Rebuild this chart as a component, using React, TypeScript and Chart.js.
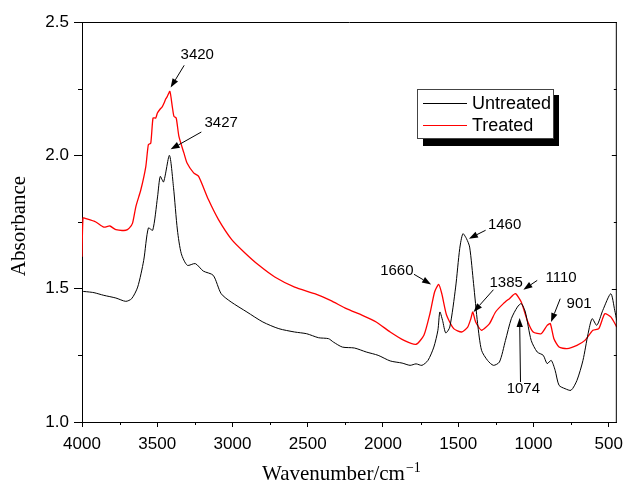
import React, { useEffect, useRef } from "react";
import { Chart, registerables } from "chart.js";

Chart.register(...registerables);

// ---------- Data ----------
const untreatedWn = [
  4000, 3960, 3920, 3855, 3775, 3709, 3670, 3630, 3590, 3559, 3530, 3498, 3480, 3458,
  3419, 3392, 3366, 3340, 3300, 3247, 3194, 3128, 3075, 3009, 2904, 2798, 2692, 2587,
  2507, 2428, 2362, 2330, 2270, 2190, 2111, 2032, 1952, 1873, 1820, 1780, 1741, 1701,
  1662, 1635, 1622, 1604, 1583, 1556, 1517, 1490, 1469, 1445, 1424, 1398, 1371, 1345,
  1305, 1266, 1226, 1186, 1147, 1107, 1081, 1054, 1015, 975, 935, 909, 882, 856, 830,
  790, 750, 711, 671, 637, 610, 579, 539, 486, 460, 446,
];
const untreatedAbs = [
  1.49, 1.488, 1.485, 1.475, 1.465, 1.4525, 1.4625, 1.506, 1.606, 1.7275, 1.719, 1.844,
  1.921, 1.9, 2.0, 1.88, 1.72, 1.631, 1.5875, 1.594, 1.566, 1.55, 1.481, 1.45, 1.4125,
  1.375, 1.35, 1.3375, 1.331, 1.316, 1.3125, 1.3, 1.281, 1.2775, 1.2625, 1.25, 1.229,
  1.221, 1.2125, 1.218, 1.2125, 1.231, 1.281, 1.344, 1.4125, 1.381, 1.334, 1.356, 1.506,
  1.65, 1.706, 1.6875, 1.656, 1.519, 1.369, 1.269, 1.231, 1.2125, 1.225, 1.306, 1.3875,
  1.431, 1.444, 1.4125, 1.306, 1.2625, 1.25, 1.219, 1.231, 1.194, 1.1375, 1.125, 1.119,
  1.156, 1.231, 1.331, 1.3875, 1.3625, 1.419, 1.481, 1.419, 1.38,
];

const treatedWn = [
  4000, 3993, 3974, 3908, 3855, 3815, 3775, 3709, 3686, 3664, 3642, 3609, 3576, 3559,
  3543, 3528, 3510, 3499, 3484, 3466, 3453, 3444, 3433, 3416, 3400, 3389, 3374, 3356,
  3323, 3302, 3258, 3225, 3160, 3093, 3005, 2917, 2824, 2719, 2587, 2454, 2349, 2243,
  2137, 2045, 1952, 1860, 1781, 1728, 1688, 1657, 1630, 1609, 1577, 1530, 1477, 1437,
  1416, 1403, 1384, 1345, 1292, 1252, 1200, 1160, 1120, 1081, 1041, 1002, 949, 909, 888,
  864, 830, 777, 711, 658, 605, 566, 526, 486, 446,
];
const treatedAbs = [
  1.62, 1.765, 1.7625, 1.75, 1.731, 1.735, 1.721, 1.719, 1.727, 1.746, 1.808, 1.871,
  1.958, 2.04, 2.046, 2.14, 2.14, 2.159, 2.171, 2.183, 2.198, 2.211, 2.221, 2.24, 2.183,
  2.146, 2.14, 2.071, 2.009, 1.971, 1.934, 1.921, 1.834, 1.759, 1.684, 1.634, 1.5875,
  1.544, 1.506, 1.481, 1.456, 1.425, 1.4, 1.375, 1.3375, 1.306, 1.291, 1.325, 1.406,
  1.4875, 1.516, 1.481, 1.4, 1.35, 1.3375, 1.356, 1.3875, 1.4125, 1.375, 1.344, 1.369,
  1.4125, 1.444, 1.4625, 1.481, 1.45, 1.381, 1.3375, 1.331, 1.3625, 1.369, 1.3125, 1.281,
  1.275, 1.2875, 1.306, 1.344, 1.35, 1.406, 1.394, 1.356,
];

const xTickValues = [4000, 3500, 3000, 2500, 2000, 1500, 1000, 500];
const xMinorTicks = [3750, 3250, 2750, 2250, 1750, 1250, 750];
const yTickValues = [1.0, 1.5, 2.0, 2.5];
const yMinorTicks = [1.25, 1.75, 2.25];

const seriesNames = ["Untreated", "Treated"];
const seriesColors = ["#000000", "#ff0000"];

// Annotations: label, label position, arrow tail, arrow head (data units)
const annotLabels = ["3420", "3427", "1460", "1660", "1385", "1110", "901", "1074"];
const annotText = [
  [3234, 2.375], [3075, 2.1225], [1192, 1.7375], [1908, 1.566],
  [1181, 1.521], [816, 1.54], [697, 1.444], [1067, 1.125],
];
const annotTail = [
  [3321, 2.3375], [3207, 2.0875], [1318, 1.719], [1794, 1.554],
  [1266, 1.496], [975, 1.531], [822, 1.4625], [1086, 1.15],
];
const annotHead = [
  [3411, 2.254], [3411, 2.0225], [1429, 1.6875], [1680, 1.516],
  [1398, 1.4125], [1067, 1.496], [883, 1.375], [1092, 1.39],
];

const SANS = "'Liberation Sans', Arial, sans-serif";
const SERIF = "'Liberation Serif', 'Times New Roman', serif";

const decorPlugin = {
  id: "decor",
  afterDraw(chart: any) {
    const ctx = chart.ctx as CanvasRenderingContext2D;
    const xs = chart.scales.x;
    const ys = chart.scales.y;
    const { left, right, top, bottom } = chart.chartArea;
    ctx.save();
    ctx.strokeStyle = "#000";
    ctx.lineWidth = 1;
    // frame top and right
    ctx.beginPath();
    ctx.moveTo(left, top + 0.5);
    ctx.lineTo(right, top + 0.5);
    ctx.moveTo(right - 0.5, top);
    ctx.lineTo(right - 0.5, bottom);
    ctx.stroke();
    // minor x ticks
    ctx.beginPath();
    for (const v of xMinorTicks) {
      const px = Math.round(xs.getPixelForValue(v)) + 0.5;
      ctx.moveTo(px, bottom);
      ctx.lineTo(px, bottom + 3);
    }
    // minor y ticks
    for (const v of yMinorTicks) {
      const py = Math.round(ys.getPixelForValue(v)) + 0.5;
      ctx.moveTo(left, py);
      ctx.lineTo(left - 4, py);
    }
    // right-side inner ticks
    for (const v of yTickValues) {
      const py = Math.round(ys.getPixelForValue(v)) + 0.5;
      ctx.moveTo(right, py);
      ctx.lineTo(right - 5, py);
    }
    for (const v of yMinorTicks) {
      const py = Math.round(ys.getPixelForValue(v)) + 0.5;
      ctx.moveTo(right, py);
      ctx.lineTo(right - 3, py);
    }
    ctx.stroke();

    // annotations
    ctx.fillStyle = "#000";
    ctx.font = `15px ${SANS}`;
    ctx.textAlign = "center";
    ctx.textBaseline = "middle";
    annotLabels.forEach((lab, i) => {
      const tx = xs.getPixelForValue(annotText[i][0]);
      const ty = ys.getPixelForValue(annotText[i][1]);
      ctx.fillText(lab, tx, ty);
      const x1 = xs.getPixelForValue(annotTail[i][0]);
      const y1 = ys.getPixelForValue(annotTail[i][1]);
      const x2 = xs.getPixelForValue(annotHead[i][0]);
      const y2 = ys.getPixelForValue(annotHead[i][1]);
      const ang = Math.atan2(y2 - y1, x2 - x1);
      const hl = 9, hw = 3.2;
      const bx = x2 - hl * Math.cos(ang);
      const by = y2 - hl * Math.sin(ang);
      ctx.beginPath();
      ctx.moveTo(x1, y1);
      ctx.lineTo(bx, by);
      ctx.stroke();
      ctx.beginPath();
      ctx.moveTo(x2, y2);
      ctx.lineTo(bx + hw * Math.sin(ang), by - hw * Math.cos(ang));
      ctx.lineTo(bx - hw * Math.sin(ang), by + hw * Math.cos(ang));
      ctx.closePath();
      ctx.fill();
    });

    // legend
    const lx = 417, ly = 89, lw = 136, lh = 49;
    ctx.fillStyle = "#000";
    ctx.fillRect(lx + 6, ly + 6, lw, lh + 2);
    ctx.fillStyle = "#fff";
    ctx.fillRect(lx, ly, lw, lh);
    ctx.strokeStyle = "#444";
    ctx.strokeRect(lx + 0.5, ly + 0.5, lw, lh);
    ctx.font = `18px ${SANS}`;
    ctx.textAlign = "left";
    ctx.textBaseline = "middle";
    seriesNames.forEach((name, i) => {
      const yy = ly + 14 + i * 22;
      ctx.strokeStyle = seriesColors[i];
      ctx.lineWidth = 1;
      ctx.beginPath();
      ctx.moveTo(lx + 6, yy + 0.5);
      ctx.lineTo(lx + 50, yy + 0.5);
      ctx.stroke();
      ctx.fillStyle = "#000";
      ctx.fillText(name, lx + 55, yy + 1);
    });

    // y-axis title
    ctx.save();
    ctx.translate(25, 226);
    ctx.rotate(-Math.PI / 2);
    ctx.font = `21px ${SERIF}`;
    ctx.textAlign = "center";
    ctx.textBaseline = "alphabetic";
    ctx.fillStyle = "#000";
    ctx.fillText("Absorbance", 0, 0);
    ctx.restore();

    // x-axis title with superscript
    const main = "Wavenumber/cm";
    const sup = "\u22121";
    ctx.font = `21px ${SERIF}`;
    const w1 = ctx.measureText(main).width;
    ctx.font = `14px ${SERIF}`;
    const w2 = ctx.measureText(sup).width;
    const cx = (left + right) / 2 - 8;
    const sx = cx - (w1 + w2 + 1) / 2;
    ctx.textAlign = "left";
    ctx.textBaseline = "alphabetic";
    ctx.fillStyle = "#000";
    ctx.font = `21px ${SERIF}`;
    ctx.fillText(main, sx, 480);
    ctx.font = `14px ${SERIF}`;
    ctx.fillText(sup, sx + w1 + 1, 472);
    ctx.restore();
  },
};

export default function App() {
  const ref = useRef<HTMLCanvasElement | null>(null);
  useEffect(() => {
    if (!ref.current) return;
    const chart = new Chart(ref.current, {
      type: "line",
      data: {
        datasets: [
          {
            label: seriesNames[0],
            data: untreatedWn.map((x, i) => ({ x, y: untreatedAbs[i] })),
            borderColor: seriesColors[0],
            borderWidth: 1,
            pointRadius: 0,
            tension: 0.25,
            fill: false,
          },
          {
            label: seriesNames[1],
            data: treatedWn.map((x, i) => ({ x, y: treatedAbs[i] })),
            borderColor: seriesColors[1],
            borderWidth: 1.3,
            pointRadius: 0,
            tension: 0.2,
            fill: false,
          },
        ],
      },
      options: {
        responsive: false,
        animation: false,
        devicePixelRatio: 1,
        layout: { padding: { left: 0, right: 8, top: 22, bottom: 0 } },
        plugins: { legend: { display: false }, tooltip: { enabled: false } },
        scales: {
          x: {
            type: "linear",
            reverse: true,
            min: 446,
            max: 4000,
            afterBuildTicks: (s: any) => {
              s.ticks = xTickValues.map((v) => ({ value: v }));
            },
            afterFit: (s: any) => {
              s.height = 64;
            },
            ticks: {
              callback: (v: any) => String(v),
              color: "#000",
              font: { family: SANS, size: 17 },
              padding: 7,
              maxRotation: 0,
              autoSkip: false,
            },
            grid: { drawOnChartArea: false, tickLength: 5, color: "#000", tickColor: "#000" },
            border: { color: "#000", width: 1 },
          },
          y: {
            type: "linear",
            min: 1,
            max: 2.5,
            afterBuildTicks: (s: any) => {
              s.ticks = yTickValues.map((v) => ({ value: v }));
            },
            afterFit: (s: any) => {
              s.width = 82;
            },
            ticks: {
              callback: (v: any) => Number(v).toFixed(1),
              color: "#000",
              font: { family: SANS, size: 17 },
              padding: 5,
            },
            grid: { drawOnChartArea: false, tickLength: 8, color: "#000", tickColor: "#000" },
            border: { color: "#000", width: 1 },
          },
        },
      },
      plugins: [decorPlugin],
    });
    return () => chart.destroy();
  }, []);
  return (
    <div style={{ position: "absolute", left: 0, top: 0, width: 630, height: 486, background: "#fff" }}>
      <canvas ref={ref} width={630} height={486} style={{ display: "block" }} />
    </div>
  );
}
